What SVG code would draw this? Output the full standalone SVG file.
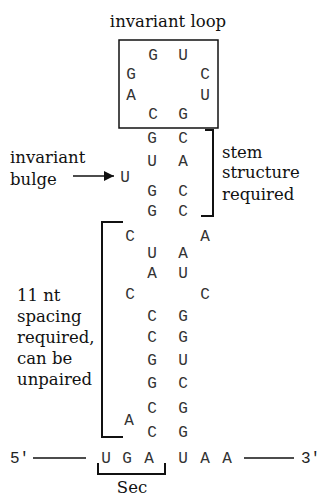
<svg xmlns="http://www.w3.org/2000/svg" width="324" height="496" viewBox="0 0 324 496">
<style>
.nt{font-family:"Liberation Mono","DejaVu Sans Mono",monospace;font-size:16px;fill:#333;text-anchor:middle}
.pr{font-family:"Liberation Mono","DejaVu Sans Mono",monospace;font-size:16px;fill:#222}
.lb{font-family:"DejaVu Serif","Liberation Serif",serif;font-size:16.5px;fill:#111}
.ln{stroke:#111;fill:none;stroke-width:1.5}
.br{stroke:#111;fill:none;stroke-width:2}
</style>
<defs>
<marker id="ah" viewBox="0 0 10 10" refX="10" refY="5" markerWidth="14" markerHeight="10" markerUnits="userSpaceOnUse" orient="auto">
<path d="M0,0 L10,5 L0,10 Z" fill="#111"/>
</marker>
</defs>
<rect width="324" height="496" fill="#fff"/>

<g id="title"><text class="lb" x="168" y="27" text-anchor="middle">invariant loop</text></g>

<g id="loop">
<rect class="ln" x="119" y="40" width="99" height="88"/>
<text class="nt" x="153" y="60">G</text><text class="nt" x="183" y="60">U</text>
<text class="nt" x="131" y="79">G</text><text class="nt" x="205" y="79">C</text>
<text class="nt" x="131" y="100">A</text><text class="nt" x="205" y="100">U</text>
<text class="nt" x="153" y="119">C</text><text class="nt" x="183" y="119">G</text>
</g>

<g id="stem">
<text class="nt" x="152" y="143">G</text><text class="nt" x="183" y="143">C</text>
<text class="nt" x="152" y="166">U</text><text class="nt" x="183" y="166">A</text>
<text class="nt" x="152" y="196">G</text><text class="nt" x="183" y="196">C</text>
<text class="nt" x="152" y="216">G</text><text class="nt" x="183" y="216">C</text>
</g>

<g id="bulge">
<text class="nt" x="125" y="182">U</text>
<text class="lb" x="10" y="163">invariant</text>
<text class="lb" x="10" y="185">bulge</text>
</g>

<g id="stem-label">
<text class="lb" x="222" y="158">stem</text>
<text class="lb" x="222" y="178">structure</text>
<text class="lb" x="222" y="200">required</text>
</g>

<g id="spacer">
<text class="nt" x="130" y="241">C</text><text class="nt" x="205" y="241">A</text>
<text class="nt" x="152" y="258">U</text><text class="nt" x="183" y="258">A</text>
<text class="nt" x="152" y="278">A</text><text class="nt" x="183" y="278">U</text>
<text class="nt" x="130" y="299">C</text><text class="nt" x="205" y="299">C</text>
<text class="nt" x="152" y="321">C</text><text class="nt" x="183" y="321">G</text>
<text class="nt" x="152" y="342">C</text><text class="nt" x="183" y="342">G</text>
<text class="nt" x="152" y="365">G</text><text class="nt" x="183" y="365">U</text>
<text class="nt" x="152" y="388">G</text><text class="nt" x="183" y="388">C</text>
<text class="nt" x="152" y="413">C</text><text class="nt" x="183" y="413">G</text>
<text class="nt" x="129" y="425">A</text>
<text class="nt" x="152" y="437">C</text><text class="nt" x="183" y="437">G</text>
</g>

<g id="spacing-label">
<text class="lb" x="17" y="301">11 nt</text>
<text class="lb" x="17" y="322">spacing</text>
<text class="lb" x="17" y="343">required,</text>
<text class="lb" x="17" y="364">can be</text>
<text class="lb" x="17" y="385">unpaired</text>
</g>

<g id="mrna">
<text class="pr" x="10" y="463">5'</text>
<text class="nt" x="106" y="463">U</text><text class="nt" x="127" y="463">G</text><text class="nt" x="149" y="463">A</text>
<text class="nt" x="183" y="463">U</text><text class="nt" x="205" y="463">A</text><text class="nt" x="227" y="463">A</text>
<text class="pr" x="301" y="463">3'</text>
</g>

<g id="sec"><text class="lb" x="132" y="493" text-anchor="middle">Sec</text></g>

<g id="connectors">
<path class="br" d="M205,130 H213 V216 H201"/>
<path class="br" d="M123,222 H102 V437 H123"/>
<path class="br" d="M98,463 V474 H165 V463"/>
<line class="ln" x1="33" y1="458" x2="86" y2="458"/>
<line class="ln" x1="244" y1="458" x2="294" y2="458"/>
<line class="ln" x1="73" y1="176" x2="114" y2="176" marker-end="url(#ah)"/>
</g>
</svg>
